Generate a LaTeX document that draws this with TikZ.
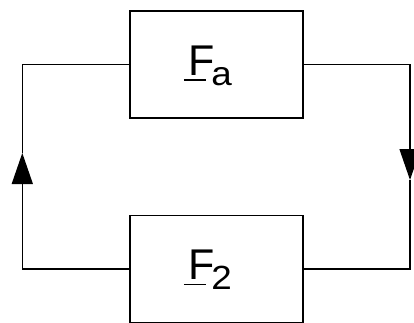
\documentclass[tikz,border=0pt]{standalone}
\usepackage{fontspec}
\setmainfont{Liberation Sans}
\usetikzlibrary{arrows.meta}
\newcommand{\vecF}[1]{\rlap{\kern-4.9pt\rule[-5.5pt]{21.7pt}{1.3pt}}F\kern-3.7pt\raisebox{-10.5pt}{\fontsize{33.5pt}{34pt}\selectfont\scalebox{1.1}[1]{#1}}}
\begin{document}
\begin{tikzpicture}[x=1pt,y=-1pt,line width=1.3pt,
  blockbox/.style={draw,minimum width=173pt,minimum height=107pt,inner sep=0pt},
  lbl/.style={anchor=base west,inner sep=0pt,font=\fontsize{43pt}{44pt}\selectfont},
  tip/.style={-{Triangle[width=21pt,length=31pt]}}]
\useasboundingbox (0,0) rectangle (414,323);
\node[blockbox] (fa) at (216.5,64.5) {};
\node[blockbox] (f2) at (216.5,269) {};
\node[lbl] (tfa) at (188.2,75.3) {\vecF{a}};
\node[lbl] (tf2) at (188.2,279.3) {\vecF{2}};
\coordinate (lt) at (22.3,64.5);
\coordinate (lb) at (22.3,269);
\coordinate (la) at (22.3,153);
\coordinate (rt) at (410,64.5);
\coordinate (rb) at (410,269);
\coordinate (ra) at (410,180);
\draw[tip] (f2.west) -- (lb) -- (la);
\draw (la) -- (lt) -- (fa.west);
\draw[tip] (fa.east) -- (rt) -- (ra);
\draw (ra) -- (rb) -- (f2.east);
\end{tikzpicture}
\end{document}
